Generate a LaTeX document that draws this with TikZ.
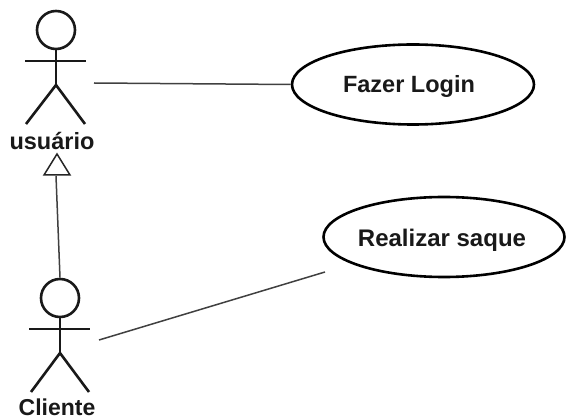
\documentclass[tikz,border=0pt]{standalone}
\usepackage{fontspec}
\setmainfont{Liberation Sans}
\usetikzlibrary{arrows.meta,shapes.geometric}
\tikzset{
 px/.style={x=1pt,y=-1pt},
 ln/.style={draw=black!90,line width=2.6pt},
 thin ln/.style={draw=black!75,line width=1.5pt},
 uc/.style={ellipse,draw=black,line width=2.6pt,fill=white,inner sep=0pt},
 lbl/.style={font=\bfseries\fontsize{23.5}{26}\selectfont,text=black!90,inner sep=0pt},
 headc/.style={draw=black!90,line width=2.6pt,circle,minimum size=38pt,inner sep=0pt}
}
\begin{document}
\begin{tikzpicture}[px]
\useasboundingbox (0,0) rectangle (567,419);
\node[uc,minimum width=242pt,minimum height=80pt] (login) at (413,84.5) {};
\node[lbl] (logint) at (409,86.5) {Fazer Login};
\node[uc,minimum width=241pt,minimum height=80pt] (saque) at (444,237) {};
\node[lbl,font=\bfseries\fontsize{24}{26}\selectfont] (saquet) at (442,240.5) {Realizar saque};
\coordinate (ua) at (94,83);
\coordinate (ca) at (99,340);
\coordinate (cs) at (325,272);
\coordinate (uatip) at (57,154);
% actor usuario
\node[headc] (uhead) at (56,30) {};
\draw[ln] (uhead.south) -- (56,85);
\draw[ln] (25,61) -- (86,61);
\draw[ln] (56,85) -- (26,124);
\draw[ln] (56,85) -- (85,124);
\node[lbl] (usuario) at (52,140.5) {usuário};
% actor cliente
\node[headc] (chead) at (60,298) {};
\draw[ln] (chead.south) -- (60,353);
\draw[ln] (29,329) -- (90,329);
\draw[ln] (60,353) -- (31,392);
\draw[ln] (60,353) -- (89,392);
\node[lbl,font=\bfseries\fontsize{23}{26}\selectfont] (cliente) at (57,407) {Cliente};
% connectors
\draw[thin ln] (ua) -- (login.west);
\draw[thin ln] (ca) -- (cs);
\draw[thin ln] (chead.north) -- (56,176);
\draw[draw=black!85,line width=1.5pt,fill=white] (uatip) -- (44,175) -- (70,175) -- cycle;
\end{tikzpicture}
\end{document}
